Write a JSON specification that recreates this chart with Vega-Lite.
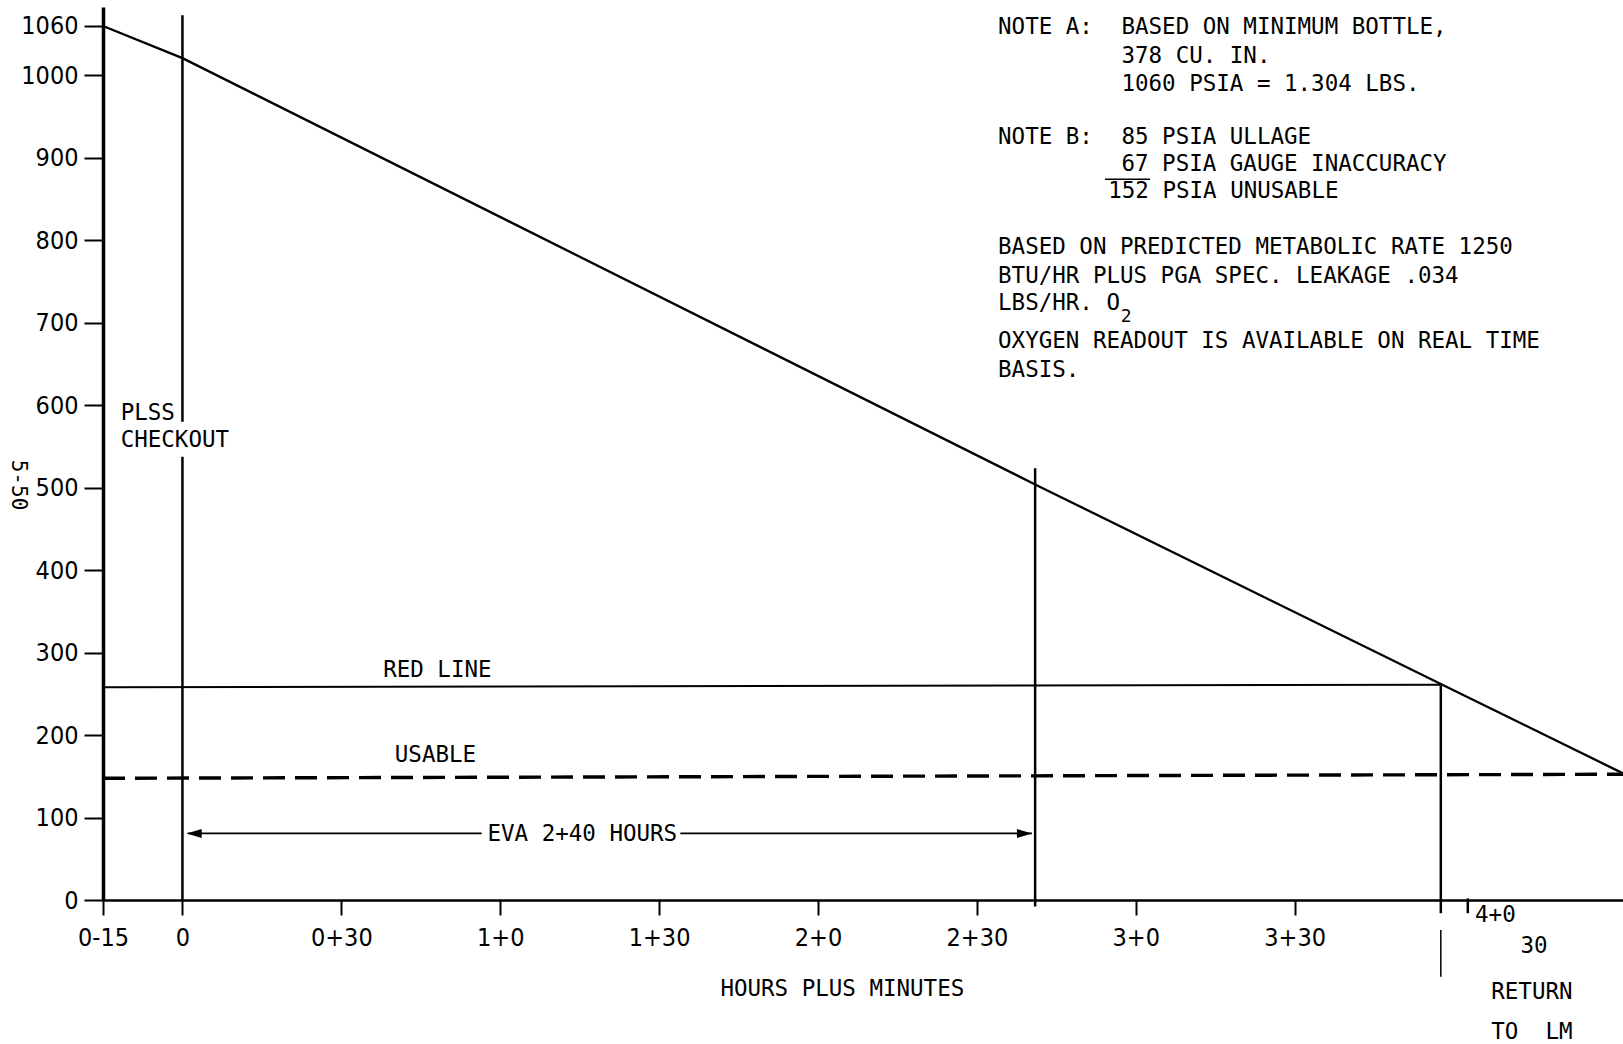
{
  "$schema": "https://vega.github.io/schema/vega-lite/v6.json",
  "width": 1520,
  "height": 893,
  "autosize": {"type": "none"},
  "padding": {"left": 103, "top": 7, "right": 0, "bottom": 144},
  "background": "white",
  "config": {"view": {"stroke": null}},
  "datasets": {
    "depletion": [
      {"t": -15, "p": 1060},
      {"t": 0, "p": 1021},
      {"t": 161, "p": 504},
      {"t": 237.6, "p": 262},
      {"t": 272, "p": 153.6}
    ],
    "redline": [
      {"t": -15, "p": 258},
      {"t": 237.6, "p": 261}
    ],
    "usable": [
      {"t": -15, "p": 147.6},
      {"t": 272, "p": 152.5}
    ],
    "verticals": [
      {"t": 0, "p": 0, "p2": 537.7},
      {"t": 0, "p": 580, "p2": 1073},
      {"t": 161, "p": -8, "p2": 523.6},
      {"t": 237.6, "p": -16, "p2": 263},
      {"t": 242.7, "p": 2, "p2": -16}
    ],
    "thinverticals": [
      {"t": 237.6, "p": -36.4, "p2": -93}
    ],
    "shafts": [
      {"t": 1, "t2": 56.5, "p": 80.8},
      {"t": 94, "t2": 160.4, "p": 80.8}
    ],
    "arrowheads": [
      {"t": 0.8, "p": 80.8, "dir": "left"},
      {"t": 160.4, "p": 80.8, "dir": "right"}
    ],
    "underline": [
      {"t": 174.2, "t2": 182.7, "p": 874.1}
    ],
    "leftText": [
      {"t": 154.0, "p": 1058.2, "text": "NOTE A:"},
      {"t": 177.3, "p": 1058.2, "text": "BASED ON MINIMUM BOTTLE,"},
      {"t": 177.3, "p": 1023.9, "text": "378 CU. IN."},
      {"t": 177.3, "p": 989.9, "text": "1060 PSIA = 1.304 LBS."},
      {"t": 154.0, "p": 924.8, "text": "NOTE B:"},
      {"t": 177.3, "p": 924.8, "text": "85 PSIA ULLAGE"},
      {"t": 177.3, "p": 892.7, "text": "67 PSIA GAUGE INACCURACY"},
      {"t": 174.8, "p": 860.2, "text": "152 PSIA UNUSABLE"},
      {"t": 154.0, "p": 791.4, "text": "BASED ON PREDICTED METABOLIC RATE 1250"},
      {"t": 154.0, "p": 757.1, "text": "BTU/HR PLUS PGA SPEC. LEAKAGE .034"},
      {"t": 154.0, "p": 723.7, "text": "LBS/HR. O"},
      {"t": 154.0, "p": 678.3, "text": "OXYGEN READOUT IS AVAILABLE ON REAL TIME"},
      {"t": 154.0, "p": 642.9, "text": "BASIS."},
      {"t": -11.66, "p": 590.3, "text": "PLSS"},
      {"t": -11.66, "p": 557.6, "text": "CHECKOUT"},
      {"t": 37.9, "p": 279.0, "text": "RED LINE"},
      {"t": 40.1, "p": 175.5, "text": "USABLE"}
    ],
    "centerText": [
      {"t": 75.5, "p": 80.0, "text": "EVA 2+40 HOURS"},
      {"t": 247.9, "p": -17.8, "text": "4+0"},
      {"t": 255.2, "p": -55.6, "text": "30"},
      {"t": 254.8, "p": -111.2, "text": "RETURN"},
      {"t": 254.8, "p": -159.7, "text": "TO\u00a0\u00a0LM"},
      {"t": 124.6, "p": -107.9, "text": "HOURS PLUS MINUTES"}
    ],
    "subscript": [
      {"t": 178.2, "p": 707.5, "text": "2"}
    ],
    "pageno": [
      {"t": -31.05, "p": 503.3, "text": "5-50"}
    ]
  },
  "encoding": {
    "x": {
      "field": "t",
      "type": "quantitative",
      "scale": {"domain": [-15, 272], "nice": false, "zero": false},
      "axis": {
        "values": [-15, 0, 30, 60, 90, 120, 150, 180, 210],
        "labelExpr": "datum.value == -15 ? '0-15' : datum.value == 0 ? '0' : floor(datum.value / 60) + '+' + (datum.value % 60)",
        "title": null,
        "grid": false,
        "domainColor": "black",
        "domainWidth": 2.5,
        "tickColor": "black",
        "tickWidth": 2,
        "tickSize": 15,
        "labelFont": "Liberation Sans Narrow, DejaVu Sans Condensed, DejaVu Sans Mono",
        "labelFontSize": 25,
        "labelColor": "black",
        "labelPadding": 10,
        "labelFlush": false,
        "labelOverlap": false
      }
    },
    "y": {
      "field": "p",
      "type": "quantitative",
      "scale": {"domain": [0, 1083], "nice": false, "zero": false},
      "axis": {
        "values": [0, 100, 200, 300, 400, 500, 600, 700, 800, 900, 1000, 1060],
        "format": "d",
        "title": null,
        "grid": false,
        "domainColor": "black",
        "domainWidth": 3.5,
        "tickColor": "black",
        "tickWidth": 2,
        "tickSize": 19,
        "labelFont": "Liberation Sans Narrow, DejaVu Sans Condensed, DejaVu Sans Mono",
        "labelFontSize": 25,
        "labelColor": "black",
        "labelPadding": 6,
        "labelFlush": false,
        "labelOverlap": false
      }
    }
  },
  "layer": [
    {
      "data": {"name": "verticals"},
      "mark": {"type": "rule", "color": "black", "strokeWidth": 2.5},
      "encoding": {"y2": {"field": "p2"}}
    },
    {
      "data": {"name": "thinverticals"},
      "mark": {"type": "rule", "color": "black", "strokeWidth": 1.5},
      "encoding": {"y2": {"field": "p2"}}
    },
    {
      "data": {"name": "depletion"},
      "mark": {"type": "line", "color": "black", "strokeWidth": 2.3},
      "encoding": {}
    },
    {
      "data": {"name": "redline"},
      "mark": {"type": "line", "color": "black", "strokeWidth": 2},
      "encoding": {}
    },
    {
      "data": {"name": "usable"},
      "mark": {"type": "line", "color": "black", "strokeWidth": 3.4, "strokeDash": [22, 10]},
      "encoding": {}
    },
    {
      "data": {"name": "shafts"},
      "mark": {"type": "rule", "color": "black", "strokeWidth": 1.8},
      "encoding": {"x2": {"field": "t2"}}
    },
    {
      "data": {"name": "underline"},
      "mark": {"type": "rule", "color": "black", "strokeWidth": 1.5},
      "encoding": {"x2": {"field": "t2"}}
    },
    {
      "data": {"name": "arrowheads"},
      "mark": {"type": "point", "filled": true, "color": "black", "opacity": 1, "size": 225},
      "encoding": {
        "shape": {
          "field": "dir",
          "type": "nominal",
          "scale": {"domain": ["left", "right"], "range": ["M0,0L2,-0.6L2,0.6Z", "M0,0L-2,-0.6L-2,0.6Z"]},
          "legend": null
        }
      }
    },
    {
      "data": {"name": "leftText"},
      "mark": {"type": "text", "align": "left", "baseline": "middle", "font": "DejaVu Sans Mono", "fontSize": 22.5, "color": "black"},
      "encoding": {"text": {"field": "text"}}
    },
    {
      "data": {"name": "centerText"},
      "mark": {"type": "text", "align": "center", "baseline": "middle", "font": "DejaVu Sans Mono", "fontSize": 22.5, "color": "black"},
      "encoding": {"text": {"field": "text"}}
    },
    {
      "data": {"name": "subscript"},
      "mark": {"type": "text", "align": "center", "baseline": "middle", "font": "DejaVu Sans Mono", "fontSize": 18, "color": "black"},
      "encoding": {"text": {"field": "text"}}
    },
    {
      "data": {"name": "pageno"},
      "mark": {"type": "text", "align": "center", "baseline": "middle", "angle": 90, "font": "DejaVu Sans Mono", "fontSize": 21, "color": "black"},
      "encoding": {"text": {"field": "text"}}
    }
  ]
}
